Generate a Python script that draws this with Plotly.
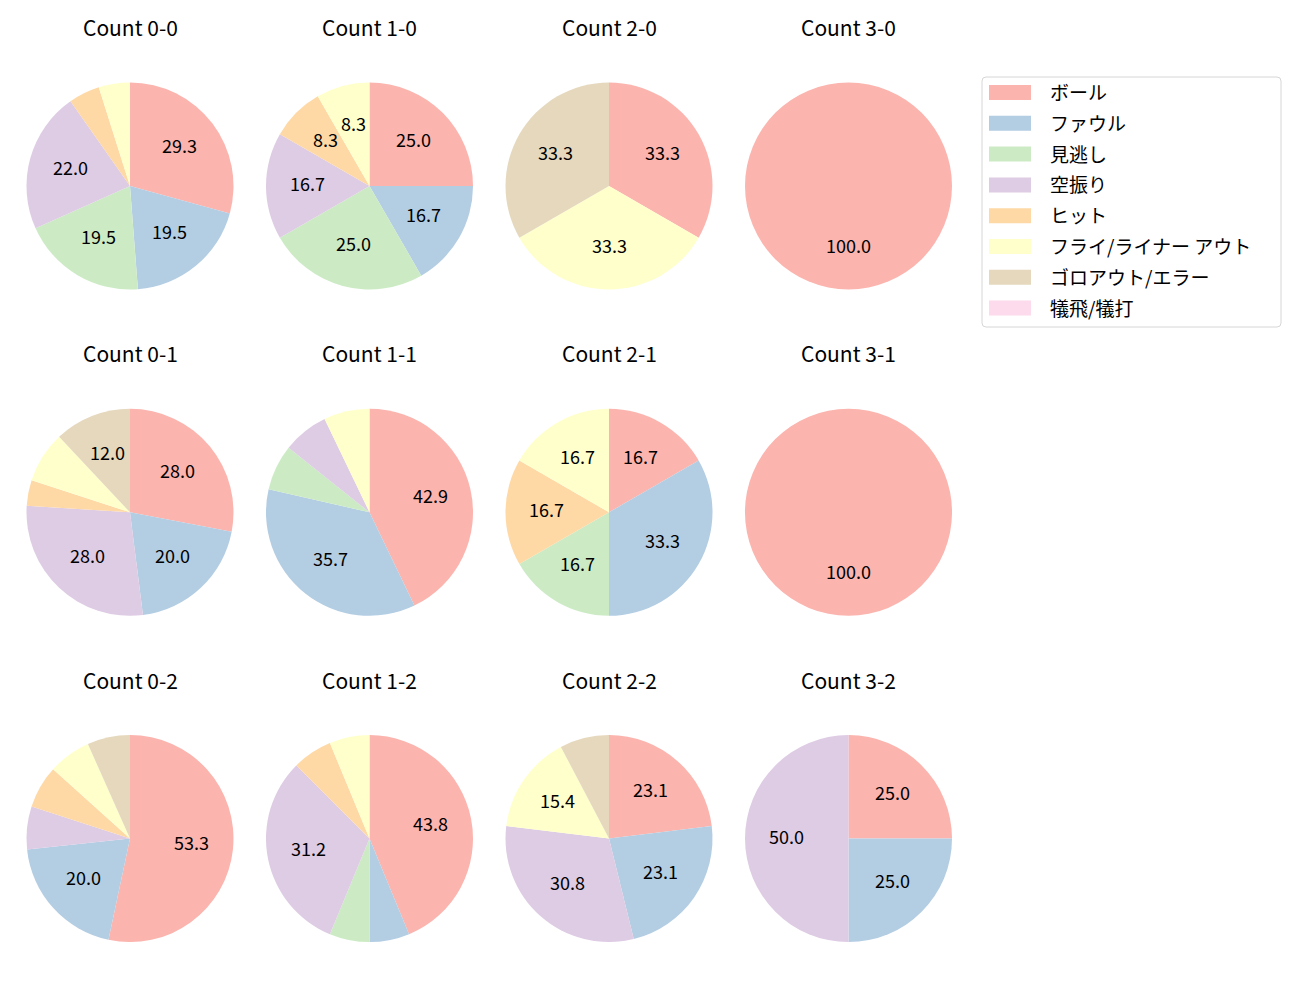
import math
import plotly.graph_objects as go

labels = ["ボール", "ファウル", "見逃し", "空振り", "ヒット",
          "フライ/ライナー アウト", "ゴロアウト/エラー", "犠飛/犠打"]
colors = ["#fbb4ae", "#b3cde3", "#ccebc5", "#decbe4",
          "#fed9a6", "#ffffcc", "#e5d8bd", "#fddaec"]

titles = ["Count 0-0", "Count 1-0", "Count 2-0", "Count 3-0",
          "Count 0-1", "Count 1-1", "Count 2-1", "Count 3-1",
          "Count 0-2", "Count 1-2", "Count 2-2", "Count 3-2"]

c00 = [12, 8, 8, 9, 2, 2, 0, 0]
c10 = [3, 2, 3, 2, 1, 1, 0, 0]
c20 = [1, 0, 0, 0, 0, 1, 1, 0]
c30 = [1, 0, 0, 0, 0, 0, 0, 0]
c01 = [7, 5, 0, 7, 1, 2, 3, 0]
c11 = [6, 5, 1, 1, 0, 1, 0, 0]
c21 = [1, 2, 1, 0, 1, 1, 0, 0]
c31 = [1, 0, 0, 0, 0, 0, 0, 0]
c02 = [8, 3, 0, 1, 1, 1, 1, 0]
c12 = [7, 1, 1, 5, 1, 1, 0, 0]
c22 = [3, 3, 0, 4, 0, 2, 1, 0]
c32 = [1, 1, 0, 2, 0, 0, 0, 0]

data = [c00, c10, c20, c30, c01, c11, c21, c31, c02, c12, c22, c32]

W, H = 1300, 1000
X0, DX = 130.0, 239.5
Y0, DY = 186.0, 326.3
R = 103.5
FONT = "Noto Sans CJK JP, Noto Sans, sans-serif"


def px(x):
    return x / W


def py(y):
    return 1 - y / H


fig = go.Figure()
annotations = []
shapes = []

for k, vals in enumerate(data):
    row, col = divmod(k, 4)
    cx = X0 + DX * col
    cy = Y0 + DY * row
    fig.add_trace(go.Pie(
        labels=labels,
        values=vals,
        sort=False,
        direction="clockwise",
        rotation=0,
        marker=dict(colors=colors, line=dict(width=0)),
        textinfo="none",
        hoverinfo="label+percent",
        showlegend=False,
        domain=dict(x=[px(cx - R), px(cx + R)],
                    y=[py(cy + R), py(cy - R)]),
    ))
    total = sum(vals)
    cum = 0.0
    for v in vals:
        if v > 0:
            pct = 100.0 * v / total
            if pct > 8.05:
                mid = 90.0 - 360.0 * (cum + v / 2.0) / total
                tx = cx + 0.6 * R * math.cos(math.radians(mid))
                ty = cy - 0.6 * R * math.sin(math.radians(mid)) - 3
                annotations.append(dict(
                    x=px(tx), y=py(ty), xref="paper", yref="paper",
                    text=f"{pct:.1f}", showarrow=False,
                    xanchor="center", yanchor="middle",
                    font=dict(size=18, color="#000000", family=FONT)))
        cum += v
    annotations.append(dict(
        x=px(cx), y=py(cy - 159), xref="paper", yref="paper",
        text=titles[k], showarrow=False, xanchor="center", yanchor="middle",
        font=dict(size=21, color="#000000", family=FONT)))

# legend (drawn as a framed key beside the grid)
LX0, LX1, LY0, LY1, RAD = 982, 1281, 77, 327, 4
path = (f"M {px(LX0 + RAD)},{py(LY0)} L {px(LX1 - RAD)},{py(LY0)} "
        f"Q {px(LX1)},{py(LY0)} {px(LX1)},{py(LY0 + RAD)} "
        f"L {px(LX1)},{py(LY1 - RAD)} Q {px(LX1)},{py(LY1)} {px(LX1 - RAD)},{py(LY1)} "
        f"L {px(LX0 + RAD)},{py(LY1)} Q {px(LX0)},{py(LY1)} {px(LX0)},{py(LY1 - RAD)} "
        f"L {px(LX0)},{py(LY0 + RAD)} Q {px(LX0)},{py(LY0)} {px(LX0 + RAD)},{py(LY0)} Z")
shapes.append(dict(type="path", path=path, xref="paper", yref="paper",
                   line=dict(color="#d6d6d6", width=1), fillcolor="white"))
for i, (lab, colr) in enumerate(zip(labels, colors)):
    ey = 92.5 + 30.8 * i
    shapes.append(dict(type="rect", xref="paper", yref="paper",
                       x0=px(989), x1=px(1031), y0=py(ey + 7.5), y1=py(ey - 7.5),
                       fillcolor=colr, line=dict(width=0)))
    annotations.append(dict(
        x=px(1048), y=py(ey - 1), xref="paper", yref="paper",
        text=lab, showarrow=False, xanchor="left", yanchor="middle",
        font=dict(size=19, color="#000000", family=FONT)))

fig.update_layout(
    width=W, height=H,
    margin=dict(l=0, r=0, t=0, b=0),
    paper_bgcolor="white",
    plot_bgcolor="white",
    font=dict(family=FONT, color="#000000"),
    annotations=annotations,
    shapes=shapes,
    showlegend=False,
)

fig.write_html("out.html")
